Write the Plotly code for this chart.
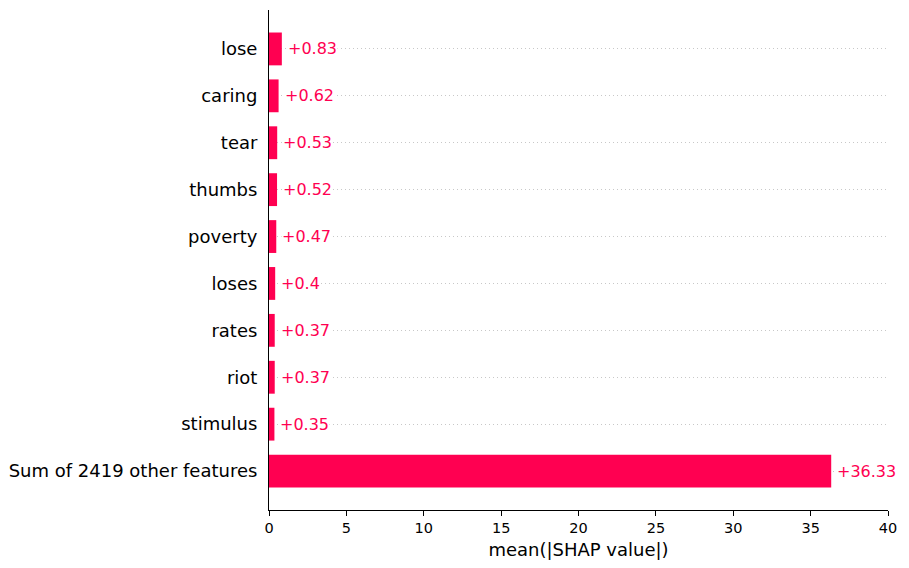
import plotly.graph_objects as go

features = ["lose", "caring", "tear", "thumbs", "poverty", "loses", "rates", "riot", "stimulus",
            "Sum of 2419 other features"]
values = [0.83, 0.62, 0.53, 0.52, 0.47, 0.4, 0.37, 0.37, 0.35, 36.33]
labels = ["+0.83", "+0.62", "+0.53", "+0.52", "+0.47", "+0.4", "+0.37", "+0.37", "+0.35", "+36.33"]
x_ticks = [0, 5, 10, 15, 20, 25, 30, 35, 40]

COLOR = "#ff0051"
FONT = "DejaVu Sans"

fig = go.Figure()
fig.add_trace(go.Bar(
    x=values, y=features, orientation="h", width=0.7,
    marker=dict(color=COLOR, line=dict(width=0)),
    hoverinfo="skip",
))

for f, v, t in zip(features, values, labels):
    fig.add_annotation(x=v, y=f, text=t, showarrow=False, xanchor="left", yanchor="middle",
                       xshift=5, bgcolor="white", borderpad=0,
                       font=dict(family=FONT, size=16, color=COLOR))

fig.update_layout(
    width=901, height=560,
    margin=dict(l=261, r=21, t=2, b=58),
    paper_bgcolor="white", plot_bgcolor="white",
    showlegend=False,
    font=dict(family=FONT, color="black"),
)
fig.update_xaxes(
    range=[0, 40], tickvals=x_ticks, ticktext=[str(v) for v in x_ticks],
    showline=True, linecolor="black", linewidth=1,
    ticks="outside", ticklen=5, tickwidth=1, tickcolor="black",
    tickfont=dict(family=FONT, size=14.5, color="black"),
    showgrid=False, zeroline=False,
    title=dict(text="mean(|SHAP value|)", font=dict(family=FONT, size=18, color="black"), standoff=7),
)
fig.update_yaxes(
    type="category", categoryorder="array", categoryarray=features,
    range=[9.83, -0.83],
    showline=True, linecolor="black", linewidth=1,
    ticks="", ticklabelstandoff=7,
    tickfont=dict(family=FONT, size=18, color="black"),
    showgrid=True, gridcolor="#c8c8c8", gridwidth=1, griddash="1px,3px",
    zeroline=False,
)

fig.write_html("out.html")
